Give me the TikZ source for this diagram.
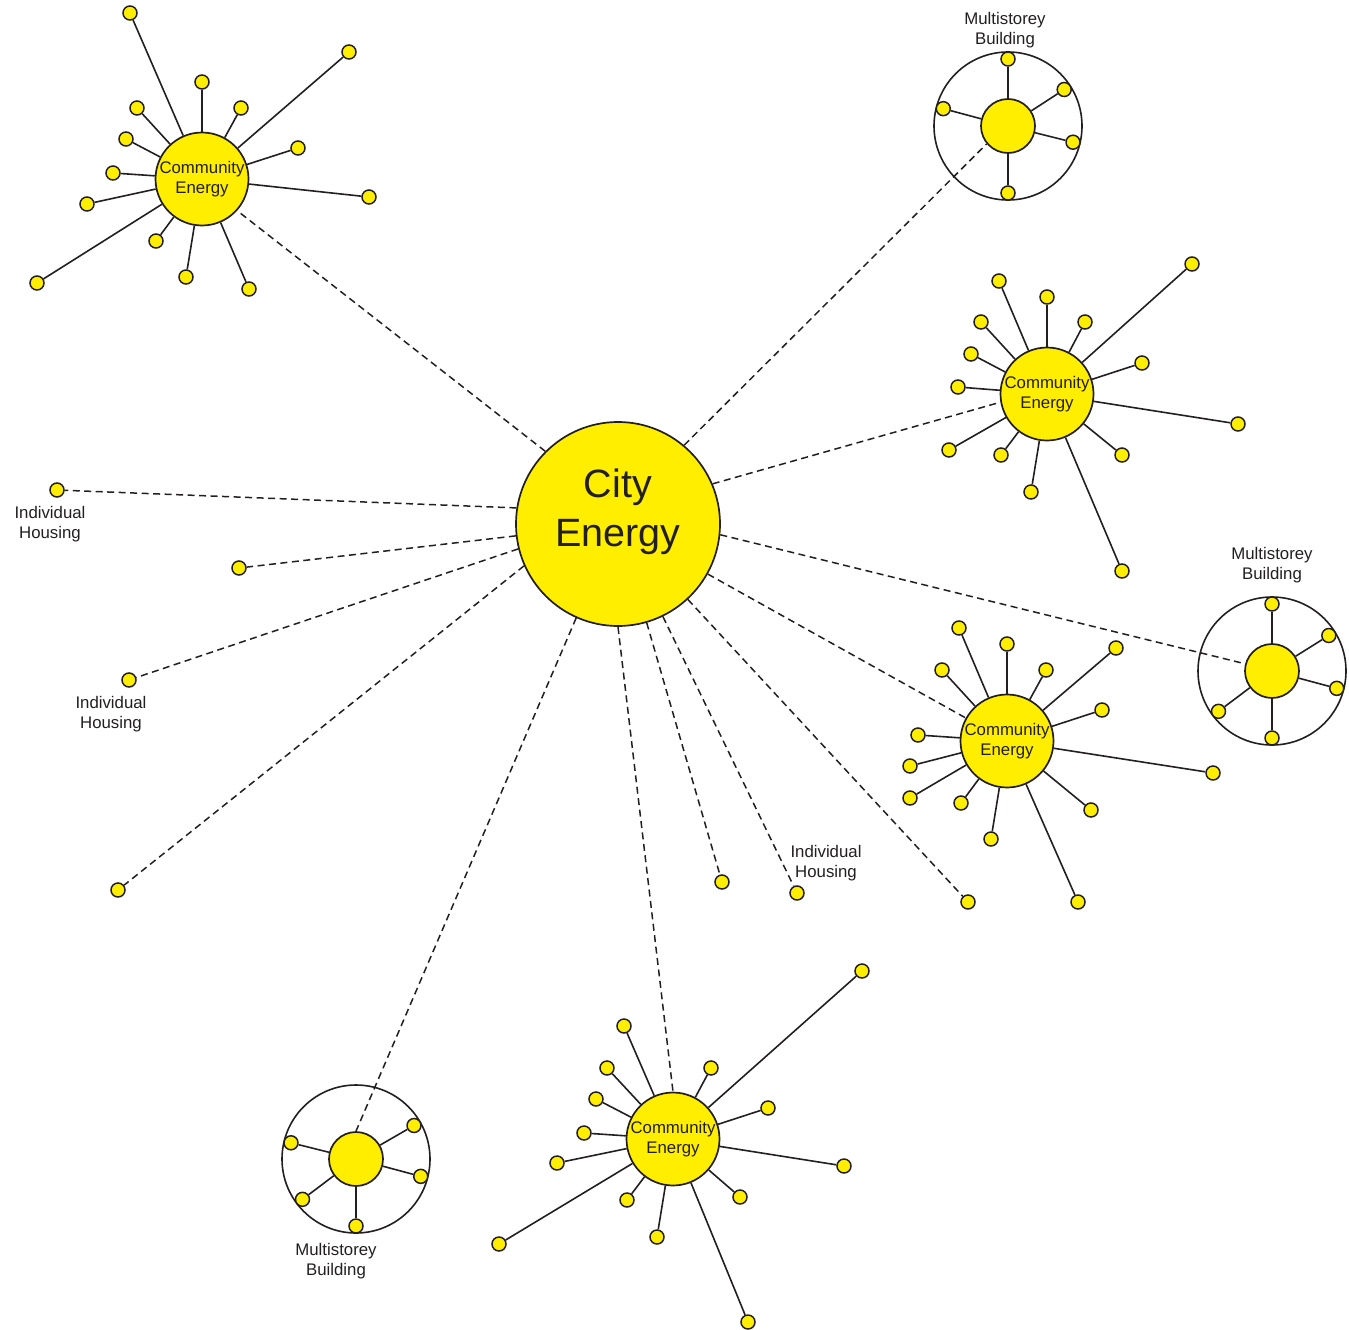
\documentclass[tikz,border=0pt]{standalone}
\usepackage{fontspec}
\setmainfont{Liberation Sans}
\usetikzlibrary{positioning,calc}

\definecolor{sun}{RGB}{255,238,0}
\definecolor{ink}{RGB}{35,31,32}

\begin{document}
\begin{tikzpicture}[x=1pt, y=-1pt,
  city/.style={circle, draw=ink, fill=sun, line width=1.7pt, minimum size=204pt, inner sep=0pt},
  hub/.style={circle, draw=ink, fill=sun, line width=1.7pt, minimum size=93pt, inner sep=0pt,
              align=center, text=ink, font=\fontsize{16.8}{20}\selectfont},
  core/.style={circle, draw=ink, fill=sun, line width=1.7pt, minimum size=54pt, inner sep=0pt},
  ring/.style={circle, draw=ink, line width=1.6pt, minimum size=148pt, inner sep=0pt},
  leaf/.style={circle, draw=ink, fill=sun, line width=1.5pt, minimum size=14pt, inner sep=0pt},
  spoke/.style={draw=ink, line width=1.6pt},
  feed/.style={draw=ink, line width=1.5pt, dash pattern=on 7pt off 4.5pt},
  lbl/.style={align=center, text=ink, inner sep=0pt, font=\fontsize{16.8}{20}\selectfont},
]
\useasboundingbox (0,0) rectangle (1349,1330);

\node[city] (city) at (618,524) {};
\node[text=ink, align=center, font=\fontsize{39.5}{48.5}\selectfont] (city-txt) at (618,512) {City\\Energy};

\node[hub] (ceNW) at (202,179) {Community\\Energy};
\foreach \p [count=\i] in {(130,13),(349,52),(202,82),(241,108),(137,108),(126,139),(298,148),
    (113,173),(369,197),(87,204),(37,283),(156,241),(186,277),(249,289)}
  {\node[leaf] (ceNW-\i) at \p {};
   \draw[spoke] (ceNW) -- (ceNW-\i);}

\node[hub] (ceE) at (1047,394) {Community\\Energy};
\foreach \p [count=\i] in {(999,281),(1047,297),(1192,264),(981,322),(1085,322),(971,354),(1142,363),
    (958,387),(1238,424),(949,450),(1001,455),(1122,455),(1031,492),(1122,571)}
  {\node[leaf] (ceE-\i) at \p {};
   \draw[spoke] (ceE) -- (ceE-\i);}

\node[hub] (ceSE) at (1007,741) {Community\\Energy};
\foreach \p [count=\i] in {(959,628),(1007,644),(1116,648),(942,670),(1046,670),(1102,710),(918,735),
    (910,766),(1213,773),(910,798),(961,803),(1091,810),(991,839),(1078,902)}
  {\node[leaf] (ceSE-\i) at \p {};
   \draw[spoke] (ceSE) -- (ceSE-\i);}

\node[hub] (ceS) at (673,1139) {Community\\Energy};
\foreach \p [count=\i] in {(862,971),(624,1026),(607,1068),(711,1068),(596,1099),(768,1108),(584,1133),
    (557,1163),(844,1166),(499,1244),(627,1200),(740,1197),(657,1237),(748,1322)}
  {\node[leaf] (ceS-\i) at \p {};
   \draw[spoke] (ceS) -- (ceS-\i);}

\node[ring] (bldNE) at (1008,126) {};
\node[core] (bldNE-c) at (bldNE) {};
\foreach \a [count=\i] in {90,33,-14,-90,165}
  {\node[leaf] (bldNE-\i) at ($(bldNE)+(\a:67pt)$) {};
   \draw[spoke] (bldNE-c) -- (bldNE-\i);}
\node[lbl] (bldNE-lbl) at (1005,30) {Multistorey\\Building};

\node[ring] (bldE) at (1272,671) {};
\node[core] (bldE-c) at (bldE) {};
\foreach \a [count=\i] in {90,32,-15,-90,217}
  {\node[leaf] (bldE-\i) at ($(bldE)+(\a:67pt)$) {};
   \draw[spoke] (bldE-c) -- (bldE-\i);}
\node[lbl] (bldE-lbl) at (1272,565) {Multistorey\\Building};

\node[ring] (bldSW) at (356,1159) {};
\node[core] (bldSW-c) at (bldSW) {};
\foreach \a [count=\i] in {166,30,-15,217,-90}
  {\node[leaf] (bldSW-\i) at ($(bldSW)+(\a:67pt)$) {};
   \draw[spoke] (bldSW-c) -- (bldSW-\i);}
\node[lbl] (bldSW-lbl) at (336,1261) {Multistorey\\Building};

\node[leaf] (house1) at (57,490) {};
\node[lbl] (house1-lbl) at (50,524) {Individual\\Housing};
\node[leaf] (house2) at (239,568) {};
\node[leaf] (house3) at (129,680) {};
\node[lbl] (house3-lbl) at (111,714) {Individual\\Housing};
\node[leaf] (house4) at (118,890) {};
\node[leaf] (house5) at (722,882) {};
\node[leaf] (house6) at (797,893) {};
\node[lbl] (house6-lbl) at (826,863) {Individual\\Housing};
\node[leaf] (house7) at (968,902) {};

\draw[feed] (city.135) -- (ceNW.-42);
\draw[feed] (city.50) -- (bldNE-c.220);
\draw[feed] (city.23) -- (ceE.190);
\draw[feed] (city.-6) -- (bldE-c.165);
\draw[feed] (city) -- (ceSE);
\draw[feed] (city) -- (house7);
\draw[feed] (city) -- (house6);
\draw[feed] (city) -- (house5);
\draw[feed] (city.south) -- (ceS.north);
\draw[feed] (city.246) -- (bldSW-c.north);
\draw[feed] (city.204) -- (house4);
\draw[feed] (city.194) -- (house3);
\draw[feed] (city) -- (house2);
\draw[feed] (city.171) -- (house1);
\end{tikzpicture}
\end{document}
